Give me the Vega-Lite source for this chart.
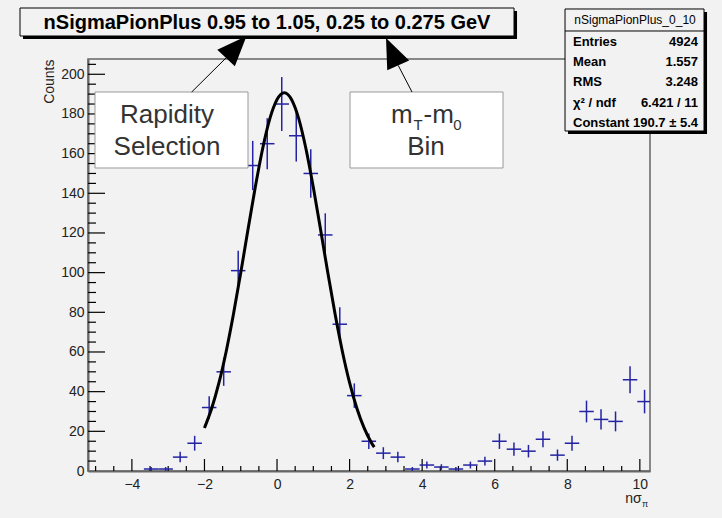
{
  "$schema": "https://vega.github.io/schema/vega-lite/v6.json",
  "width": 562,
  "height": 412,
  "autosize": {"type": "none"},
  "padding": {"left": 88, "top": 59, "right": 72, "bottom": 47},
  "background": "#f2f2f2",
  "config": {
    "font": "Liberation Sans",
    "view": {"stroke": "#666666", "strokeWidth": 1.5},
    "axis": {"grid": false, "labelColor": "#222222", "labelFont": "Liberation Sans", "titleFont": "Liberation Sans"}
  },
  "datasets": {
    "hist": [
      {"x": -3.47, "x0": -3.67, "x1": -3.27, "n": 1, "lo": 0, "hi": 2},
      {"x": -3.07, "x0": -3.27, "x1": -2.87, "n": 1, "lo": 0, "hi": 2},
      {"x": -2.67, "x0": -2.87, "x1": -2.47, "n": 7, "lo": 4.35, "hi": 9.65},
      {"x": -2.27, "x0": -2.47, "x1": -2.07, "n": 14, "lo": 10.26, "hi": 17.74},
      {"x": -1.87, "x0": -2.07, "x1": -1.67, "n": 32, "lo": 26.34, "hi": 37.66},
      {"x": -1.47, "x0": -1.67, "x1": -1.27, "n": 50, "lo": 42.93, "hi": 57.07},
      {"x": -1.07, "x0": -1.27, "x1": -0.87, "n": 101, "lo": 90.95, "hi": 111.05},
      {"x": -0.67, "x0": -0.87, "x1": -0.47, "n": 154, "lo": 141.59, "hi": 166.41},
      {"x": -0.27, "x0": -0.47, "x1": -0.07, "n": 165, "lo": 152.15, "hi": 177.85},
      {"x": 0.13, "x0": -0.07, "x1": 0.33, "n": 185, "lo": 171.4, "hi": 198.6},
      {"x": 0.53, "x0": 0.33, "x1": 0.73, "n": 169, "lo": 156, "hi": 182},
      {"x": 0.93, "x0": 0.73, "x1": 1.13, "n": 150, "lo": 137.75, "hi": 162.25},
      {"x": 1.33, "x0": 1.13, "x1": 1.53, "n": 119, "lo": 108.09, "hi": 129.91},
      {"x": 1.73, "x0": 1.53, "x1": 1.93, "n": 74, "lo": 65.4, "hi": 82.6},
      {"x": 2.13, "x0": 1.93, "x1": 2.33, "n": 38, "lo": 31.84, "hi": 44.16},
      {"x": 2.53, "x0": 2.33, "x1": 2.73, "n": 15, "lo": 11.13, "hi": 18.87},
      {"x": 2.93, "x0": 2.73, "x1": 3.13, "n": 9, "lo": 6, "hi": 12},
      {"x": 3.33, "x0": 3.13, "x1": 3.53, "n": 7, "lo": 4.35, "hi": 9.65},
      {"x": 3.73, "x0": 3.53, "x1": 3.93, "n": 1, "lo": 0, "hi": 2},
      {"x": 4.13, "x0": 3.93, "x1": 4.33, "n": 3, "lo": 1.27, "hi": 4.73},
      {"x": 4.53, "x0": 4.33, "x1": 4.73, "n": 2, "lo": 0.59, "hi": 3.41},
      {"x": 4.93, "x0": 4.73, "x1": 5.13, "n": 1, "lo": 0, "hi": 2},
      {"x": 5.33, "x0": 5.13, "x1": 5.53, "n": 3, "lo": 1.27, "hi": 4.73},
      {"x": 5.73, "x0": 5.53, "x1": 5.93, "n": 5, "lo": 2.76, "hi": 7.24},
      {"x": 6.13, "x0": 5.93, "x1": 6.33, "n": 15, "lo": 11.13, "hi": 18.87},
      {"x": 6.53, "x0": 6.33, "x1": 6.73, "n": 11, "lo": 7.68, "hi": 14.32},
      {"x": 6.93, "x0": 6.73, "x1": 7.13, "n": 10, "lo": 6.84, "hi": 13.16},
      {"x": 7.33, "x0": 7.13, "x1": 7.53, "n": 16, "lo": 12, "hi": 20},
      {"x": 7.73, "x0": 7.53, "x1": 7.93, "n": 8, "lo": 5.17, "hi": 10.83},
      {"x": 8.13, "x0": 7.93, "x1": 8.33, "n": 14, "lo": 10.26, "hi": 17.74},
      {"x": 8.53, "x0": 8.33, "x1": 8.73, "n": 30, "lo": 24.52, "hi": 35.48},
      {"x": 8.93, "x0": 8.73, "x1": 9.13, "n": 26, "lo": 20.9, "hi": 31.1},
      {"x": 9.33, "x0": 9.13, "x1": 9.53, "n": 25, "lo": 20, "hi": 30},
      {"x": 9.73, "x0": 9.53, "x1": 9.93, "n": 46, "lo": 39.22, "hi": 52.78},
      {"x": 10.13, "x0": 9.93, "x1": 10.33, "n": 35, "lo": 29.08, "hi": 40.92}
    ],
    "fit": [
      {"x": -2.0, "y": 21.7}, {"x": -1.8, "y": 31.6}, {"x": -1.6, "y": 44.5}, {"x": -1.4, "y": 60.4},
      {"x": -1.2, "y": 79.1}, {"x": -1.0, "y": 99.9}, {"x": -0.8, "y": 121.7}, {"x": -0.6, "y": 143.0},
      {"x": -0.4, "y": 162.2}, {"x": -0.2, "y": 177.5}, {"x": -0.1, "y": 183.1}, {"x": 0.0, "y": 187.3},
      {"x": 0.1, "y": 189.8}, {"x": 0.2, "y": 190.7}, {"x": 0.3, "y": 189.8}, {"x": 0.4, "y": 187.3},
      {"x": 0.5, "y": 183.1}, {"x": 0.6, "y": 177.5}, {"x": 0.8, "y": 162.2}, {"x": 1.0, "y": 143.0},
      {"x": 1.2, "y": 121.7}, {"x": 1.4, "y": 99.9}, {"x": 1.6, "y": 79.1}, {"x": 1.8, "y": 60.4},
      {"x": 2.0, "y": 44.5}, {"x": 2.2, "y": 31.6}, {"x": 2.4, "y": 21.7}, {"x": 2.6, "y": 14.3},
      {"x": 2.68, "y": 12.0}
    ],
    "xticks": [
      {"v": -5, "t0": 0, "t1": 2.52}, {"v": -4.5, "t0": 0, "t1": 2.52}, {"v": -4, "t0": 0, "t1": 6.05}, {"v": -3.5, "t0": 0, "t1": 2.52},
      {"v": -3, "t0": 0, "t1": 2.52}, {"v": -2.5, "t0": 0, "t1": 2.52}, {"v": -2, "t0": 0, "t1": 6.05}, {"v": -1.5, "t0": 0, "t1": 2.52},
      {"v": -1, "t0": 0, "t1": 2.52}, {"v": -0.5, "t0": 0, "t1": 2.52}, {"v": 0, "t0": 0, "t1": 6.05}, {"v": 0.5, "t0": 0, "t1": 2.52},
      {"v": 1, "t0": 0, "t1": 2.52}, {"v": 1.5, "t0": 0, "t1": 2.52}, {"v": 2, "t0": 0, "t1": 6.05}, {"v": 2.5, "t0": 0, "t1": 2.52},
      {"v": 3, "t0": 0, "t1": 2.52}, {"v": 3.5, "t0": 0, "t1": 2.52}, {"v": 4, "t0": 0, "t1": 6.05}, {"v": 4.5, "t0": 0, "t1": 2.52},
      {"v": 5, "t0": 0, "t1": 2.52}, {"v": 5.5, "t0": 0, "t1": 2.52}, {"v": 6, "t0": 0, "t1": 6.05}, {"v": 6.5, "t0": 0, "t1": 2.52},
      {"v": 7, "t0": 0, "t1": 2.52}, {"v": 7.5, "t0": 0, "t1": 2.52}, {"v": 8, "t0": 0, "t1": 6.05}, {"v": 8.5, "t0": 0, "t1": 2.52},
      {"v": 9, "t0": 0, "t1": 2.52}, {"v": 9.5, "t0": 0, "t1": 2.52}, {"v": 10, "t0": 0, "t1": 6.05}
    ],
    "yticks": [
      {"v": 5, "t0": -5.21, "t1": -4.99}, {"v": 10, "t0": -5.21, "t1": -4.99}, {"v": 15, "t0": -5.21, "t1": -4.99}, {"v": 20, "t0": -5.21, "t1": -4.741},
      {"v": 25, "t0": -5.21, "t1": -4.99}, {"v": 30, "t0": -5.21, "t1": -4.99}, {"v": 35, "t0": -5.21, "t1": -4.99}, {"v": 40, "t0": -5.21, "t1": -4.741},
      {"v": 45, "t0": -5.21, "t1": -4.99}, {"v": 50, "t0": -5.21, "t1": -4.99}, {"v": 55, "t0": -5.21, "t1": -4.99}, {"v": 60, "t0": -5.21, "t1": -4.741},
      {"v": 65, "t0": -5.21, "t1": -4.99}, {"v": 70, "t0": -5.21, "t1": -4.99}, {"v": 75, "t0": -5.21, "t1": -4.99}, {"v": 80, "t0": -5.21, "t1": -4.741},
      {"v": 85, "t0": -5.21, "t1": -4.99}, {"v": 90, "t0": -5.21, "t1": -4.99}, {"v": 95, "t0": -5.21, "t1": -4.99}, {"v": 100, "t0": -5.21, "t1": -4.741},
      {"v": 105, "t0": -5.21, "t1": -4.99}, {"v": 110, "t0": -5.21, "t1": -4.99}, {"v": 115, "t0": -5.21, "t1": -4.99}, {"v": 120, "t0": -5.21, "t1": -4.741},
      {"v": 125, "t0": -5.21, "t1": -4.99}, {"v": 130, "t0": -5.21, "t1": -4.99}, {"v": 135, "t0": -5.21, "t1": -4.99}, {"v": 140, "t0": -5.21, "t1": -4.741},
      {"v": 145, "t0": -5.21, "t1": -4.99}, {"v": 150, "t0": -5.21, "t1": -4.99}, {"v": 155, "t0": -5.21, "t1": -4.99}, {"v": 160, "t0": -5.21, "t1": -4.741},
      {"v": 165, "t0": -5.21, "t1": -4.99}, {"v": 170, "t0": -5.21, "t1": -4.99}, {"v": 175, "t0": -5.21, "t1": -4.99}, {"v": 180, "t0": -5.21, "t1": -4.741},
      {"v": 185, "t0": -5.21, "t1": -4.99}, {"v": 190, "t0": -5.21, "t1": -4.99}, {"v": 195, "t0": -5.21, "t1": -4.99}, {"v": 200, "t0": -5.21, "t1": -4.741},
      {"v": 205, "t0": -5.21, "t1": -4.99}
    ],
    "one": [{}]
  },
  "layer": [
    {
      "data": {"name": "xticks"},
      "mark": {"type": "rule", "color": "#000000", "strokeWidth": 1.2, "clip": false},
      "encoding": {
        "x": {"field": "v", "type": "quantitative", "scale": {"domain": [-5.21, 10.28], "nice": false, "zero": false},
          "axis": {"orient": "bottom", "values": [-4, -2, 0, 2, 4, 6, 8, 10], "ticks": false, "labelPadding": 6, "labelFontSize": 14,
            "labelFlush": false, "labelOverlap": false, "domain": true, "domainColor": "#666666", "domainWidth": 2, "title": null}},
        "y": {"field": "t0", "type": "quantitative", "scale": {"domain": [0, 207.7], "nice": false, "zero": false},
          "axis": {"orient": "left", "values": [0, 20, 40, 60, 80, 100, 120, 140, 160, 180, 200], "ticks": false, "labelPadding": 4, "labelFontSize": 14,
            "labelFlush": false, "labelOverlap": false, "domain": true, "domainColor": "#666666", "domainWidth": 2,
            "title": "Counts", "titleAnchor": "end", "titleFontSize": 14, "titleFontWeight": "normal", "titleColor": "#222222", "titlePadding": 4}},
        "y2": {"field": "t1"}
      }
    },
    {
      "data": {"name": "yticks"},
      "mark": {"type": "rule", "color": "#000000", "strokeWidth": 1.2, "clip": false},
      "encoding": {"y": {"field": "v", "type": "quantitative"}, "x": {"field": "t0", "type": "quantitative"}, "x2": {"field": "t1"}}
    },
    {
      "data": {"name": "hist"},
      "mark": {"type": "rule", "color": "#2323a3", "strokeWidth": 1.5, "clip": true},
      "encoding": {"x": {"field": "x0", "type": "quantitative"}, "x2": {"field": "x1"}, "y": {"field": "n", "type": "quantitative"}}
    },
    {
      "data": {"name": "hist"},
      "mark": {"type": "rule", "color": "#2323a3", "strokeWidth": 1.5, "clip": true},
      "encoding": {"x": {"field": "x", "type": "quantitative"}, "y": {"field": "lo", "type": "quantitative"}, "y2": {"field": "hi"}}
    },
    {
      "data": {"name": "fit"},
      "mark": {"type": "line", "color": "#000000", "strokeWidth": 3, "interpolate": "monotone", "clip": false},
      "encoding": {"x": {"field": "x", "type": "quantitative"}, "y": {"field": "y", "type": "quantitative"}}
    },
    {
      "data": {"name": "one"},
      "mark": {"type": "rect", "fill": "#000000", "clip": false},
      "encoding": {"x": {"datum": -7.002}, "x2": {"datum": 6.615}, "y": {"datum": 231.9}, "y2": {"datum": 217.79}}
    },
    {
      "data": {"name": "one"},
      "mark": {"type": "rect", "fill": "#f2f2f2", "stroke": "#000000", "strokeWidth": 1, "clip": false},
      "encoding": {"x": {"datum": -7.084}, "x2": {"datum": 6.532}, "y": {"datum": 233.41}, "y2": {"datum": 219.3}}
    },
    {
      "data": {"name": "one"},
      "mark": {"type": "text", "text": "nSigmaPionPlus 0.95 to 1.05, 0.25 to 0.275 GeV", "font": "Liberation Sans", "fontSize": 20, "fontWeight": "bold", "align": "center", "baseline": "alphabetic", "color": "#000000", "clip": false},
      "encoding": {"x": {"datum": -0.276}, "y": {"datum": 222.83}}
    },
    {
      "data": {"name": "one"},
      "mark": {"type": "rect", "fill": "#000000", "clip": false},
      "encoding": {"x": {"datum": 8.02}, "x2": {"datum": 11.852}, "y": {"datum": 231.4}, "y2": {"datum": 169.89}}
    },
    {
      "data": {"name": "one"},
      "mark": {"type": "rect", "fill": "#f2f2f2", "stroke": "#000000", "strokeWidth": 1, "clip": false},
      "encoding": {"x": {"datum": 7.938}, "x2": {"datum": 11.769}, "y": {"datum": 232.91}, "y2": {"datum": 171.41}}
    },
    {
      "data": {"name": "one"},
      "mark": {"type": "rule", "color": "#000000", "strokeWidth": 1, "clip": false},
      "encoding": {"x": {"datum": 7.938}, "x2": {"datum": 11.769}, "y": {"datum": 221.82}}
    },
    {
      "data": {"name": "one"},
      "mark": {"type": "text", "text": "nSigmaPionPlus_0_10", "font": "Liberation Sans", "fontSize": 12, "align": "center", "baseline": "alphabetic", "color": "#000000", "clip": false},
      "encoding": {"x": {"datum": 9.867}, "y": {"datum": 225.35}}
    },
    {
      "data": {"name": "one"},
      "mark": {"type": "text", "text": ["Entries", "Mean", "RMS", "χ² / ndf", "Constant"], "lineHeight": 20.25, "font": "Liberation Sans", "fontSize": 13, "fontWeight": "bold", "align": "left", "baseline": "alphabetic", "color": "#000000", "clip": false},
      "encoding": {"x": {"datum": 8.158}, "y": {"datum": 214.26}}
    },
    {
      "data": {"name": "one"},
      "mark": {"type": "text", "text": ["4924", "1.557", "3.248", "6.421 / 11", "190.7 ± 5.4"], "lineHeight": 20.25, "font": "Liberation Sans", "fontSize": 13, "fontWeight": "bold", "align": "right", "baseline": "alphabetic", "color": "#000000", "clip": false},
      "encoding": {"x": {"datum": 11.603}, "y": {"datum": 214.26}}
    },
    {
      "data": {"name": "one"},
      "mark": {"type": "rect", "fill": "#ffffff", "stroke": "#999999", "strokeWidth": 1, "clip": false},
      "encoding": {"x": {"datum": -5.017}, "x2": {"datum": -0.8}, "y": {"datum": 191.07}, "y2": {"datum": 152.75}}
    },
    {
      "data": {"name": "one"},
      "mark": {"type": "text", "text": ["Rapidity", "Selection"], "lineHeight": 32, "font": "Liberation Sans", "fontSize": 26, "align": "center", "baseline": "alphabetic", "color": "#333333", "clip": false},
      "encoding": {"x": {"datum": -3.032}, "y": {"datum": 175.44}}
    },
    {
      "data": {"name": "one"},
      "mark": {"type": "rect", "fill": "#ffffff", "stroke": "#999999", "strokeWidth": 1, "clip": false},
      "encoding": {"x": {"datum": 2.012}, "x2": {"datum": 6.229}, "y": {"datum": 191.07}, "y2": {"datum": 152.75}}
    },
    {
      "data": {"name": "one"},
      "mark": {"type": "text", "text": "m", "font": "Liberation Sans", "fontSize": 26, "align": "left", "baseline": "alphabetic", "color": "#333333", "clip": false},
      "encoding": {"x": {"datum": 3.14}, "y": {"datum": 175.44}}
    },
    {
      "data": {"name": "one"},
      "mark": {"type": "text", "text": "T", "font": "Liberation Sans", "fontSize": 15, "align": "left", "baseline": "alphabetic", "color": "#333333", "clip": false},
      "encoding": {"x": {"datum": 3.76}, "y": {"datum": 171.9}}
    },
    {
      "data": {"name": "one"},
      "mark": {"type": "text", "text": "-m", "font": "Liberation Sans", "fontSize": 26, "align": "left", "baseline": "alphabetic", "color": "#333333", "clip": false},
      "encoding": {"x": {"datum": 4.04}, "y": {"datum": 175.44}}
    },
    {
      "data": {"name": "one"},
      "mark": {"type": "text", "text": "0", "font": "Liberation Sans", "fontSize": 15, "align": "left", "baseline": "alphabetic", "color": "#333333", "clip": false},
      "encoding": {"x": {"datum": 4.86}, "y": {"datum": 171.9}}
    },
    {
      "data": {"name": "one"},
      "mark": {"type": "text", "text": "Bin", "font": "Liberation Sans", "fontSize": 26, "align": "center", "baseline": "alphabetic", "color": "#333333", "clip": false},
      "encoding": {"x": {"datum": 4.106}, "y": {"datum": 159.3}}
    },
    {
      "data": {"name": "one"},
      "mark": {"type": "rule", "color": "#000000", "strokeWidth": 1, "clip": false},
      "encoding": {"x": {"datum": -2.352}, "y": {"datum": 191.07}, "x2": {"datum": -1.406}, "y2": {"datum": 208.21}}
    },
    {
      "data": {"name": "one"},
      "mark": {"type": "point", "shape": "M0,-1L0.8,1L-0.8,1Z", "filled": true, "color": "#000000", "opacity": 1, "size": 900, "angle": 43, "clip": false},
      "encoding": {"x": {"datum": -1.122}, "y": {"datum": 213.75}}
    },
    {
      "data": {"name": "one"},
      "mark": {"type": "rule", "color": "#000000", "strokeWidth": 1, "clip": false},
      "encoding": {"x": {"datum": 3.72}, "y": {"datum": 191.07}, "x2": {"datum": 3.34}, "y2": {"datum": 204.48}}
    },
    {
      "data": {"name": "one"},
      "mark": {"type": "point", "shape": "M0,-1L0.8,1L-0.8,1Z", "filled": true, "color": "#000000", "opacity": 1, "size": 900, "angle": -24, "clip": false},
      "encoding": {"x": {"datum": 3.172}, "y": {"datum": 211.38}}
    },
    {
      "data": {"name": "one"},
      "mark": {"type": "text", "text": "nσ", "font": "Liberation Sans", "fontSize": 14, "align": "right", "baseline": "alphabetic", "color": "#222222", "clip": false},
      "encoding": {"x": {"datum": 10.052}, "y": {"datum": -16.13}}
    },
    {
      "data": {"name": "one"},
      "mark": {"type": "text", "text": "π", "font": "Liberation Sans", "fontSize": 9, "align": "left", "baseline": "alphabetic", "color": "#222222", "clip": false},
      "encoding": {"x": {"datum": 10.06}, "y": {"datum": -17.9}}
    }
  ]
}
